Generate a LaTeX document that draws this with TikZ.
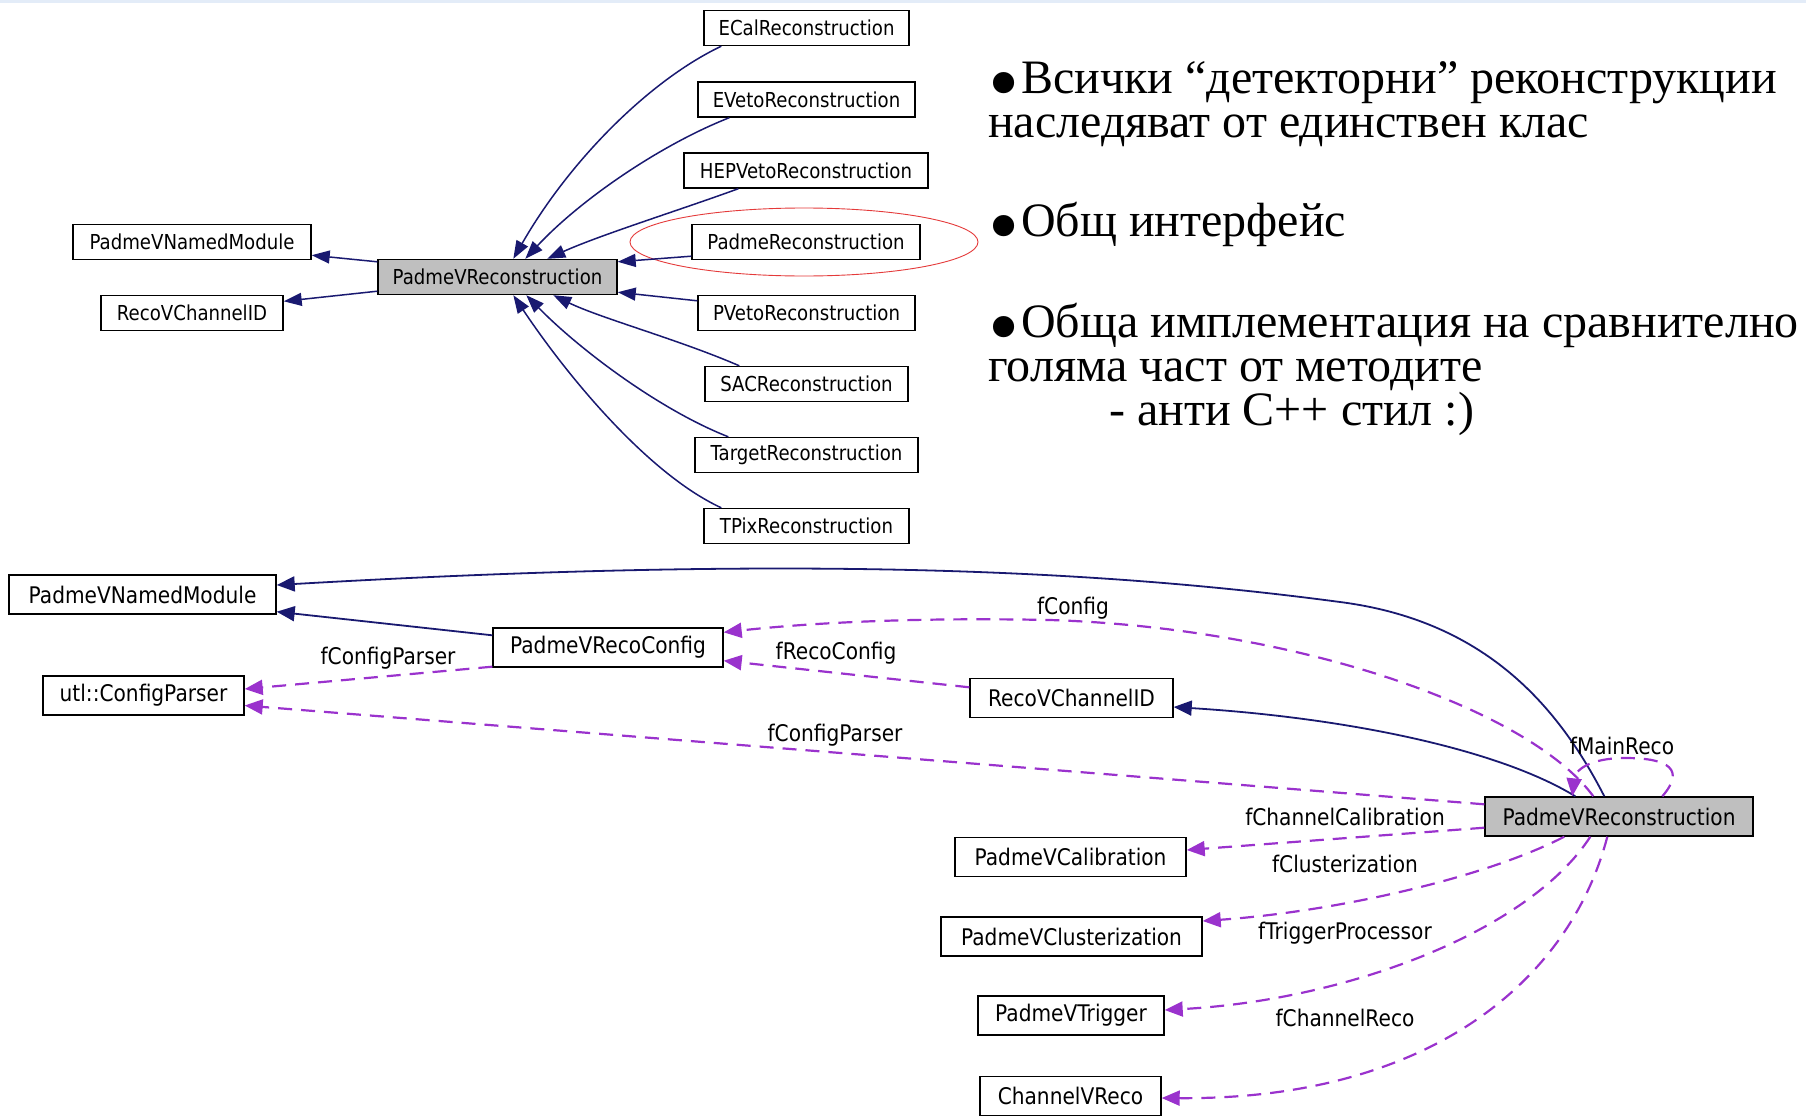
\documentclass[tikz,border=0pt]{standalone}
\usepackage{fontspec}
\setmainfont{Liberation Serif}
\newfontfamily\dvs[FakeStretch=0.88]{DejaVu Sans}
\usetikzlibrary{arrows.meta}
\definecolor{navy}{HTML}{191970}
\definecolor{dpurple}{HTML}{9A32CD}
\definecolor{boxgray}{HTML}{BFBFBF}
\definecolor{topband}{HTML}{E3ECF8}
\definecolor{ringred}{HTML}{E43A3A}
\newcommand{\bigbul}{\makebox[33pt][l]{\hspace{0.5pt}\raisebox{-19.3pt}{\scalebox{1.85}{•}}}}
\begin{document}
\begin{tikzpicture}[x=1pt,y=-1pt,
  cls/.style={draw=black, line width=1.4pt, inner sep=0pt, font=\dvs\fontsize{20.6}{24}\selectfont, minimum height=35pt},
  clsb/.style={cls, font=\dvs\fontsize{22.9}{27}\selectfont, minimum height=39pt},
  basecls/.style={fill=boxgray},
  inh/.style={draw=navy, line width=1.5pt, -{Triangle[length=18pt,width=13pt]}},
  inhb/.style={draw=navy, line width=1.8pt, -{Triangle[length=18pt,width=15pt]}},
  usage/.style={draw=dpurple, line width=2.2pt, dash pattern=on 14pt off 9pt, -{Triangle[length=18pt,width=15pt]}},
  lbl/.style={font=\dvs\fontsize{22.9}{27}\selectfont, inner sep=0pt},
  txt/.style={font=\fontsize{48}{45}\selectfont, inner sep=0pt, anchor=base west}
]
\useasboundingbox (0,0) rectangle (1806,1116);
\fill[topband] (0,0) rectangle (1806,3);

% ---------- top diagram ----------
\node[cls, minimum width=205] (ecal)   at (806.5,28)  {ECalReconstruction};
\node[cls, minimum width=217] (eveto)  at (806.5,99.5) {EVetoReconstruction};
\node[cls, minimum width=244] (hep)    at (806,170.5) {HEPVetoReconstruction};
\node[cls, minimum width=228] (padme)  at (806,242)   {PadmeReconstruction};
\node[cls, minimum width=217] (pveto)  at (806.5,313) {PVetoReconstruction};
\node[cls, minimum width=203] (sac)    at (806.5,384) {SACReconstruction};
\node[cls, minimum width=223] (target) at (806.5,455) {TargetReconstruction};
\node[cls, minimum width=205] (tpix)   at (806.5,526) {TPixReconstruction};
\node[cls, minimum width=238] (nmA)    at (192,242)   {PadmeVNamedModule};
\node[cls, minimum width=182] (rcA)    at (192,313)   {RecoVChannelID};
\node[cls, basecls, minimum width=239] (pvrA) at (497.5,277) {PadmeVReconstruction};

\draw[ringred, line width=0.9pt] (804,242) ellipse [x radius=174pt, y radius=34pt];

\draw[inh] ([xshift=18pt]ecal.south west) .. controls (650,80) and (570,160) .. ([xshift=136pt]pvrA.north west);
\draw[inh] ([xshift=32pt]eveto.south west) .. controls (660,145) and (580,200) .. ([xshift=148pt]pvrA.north west);
\draw[inh] ([xshift=55pt]hep.south west) .. controls (680,210) and (600,235) .. ([xshift=170pt]pvrA.north west);
\draw[inh] ([yshift=4pt]padme.south west) -- ([yshift=-3pt]pvrA.north east);
\draw[inh] ([yshift=-6pt]pveto.north west) -- ([yshift=3pt]pvrA.south east);
\draw[inh] ([xshift=35pt]sac.north west) .. controls (680,340) and (600,318) .. ([xshift=176pt]pvrA.south west);
\draw[inh] ([xshift=34pt]target.north west) .. controls (660,410) and (580,350) .. ([xshift=149pt]pvrA.south west);
\draw[inh] ([xshift=18pt]tpix.north west) .. controls (650,475) and (570,380) .. ([xshift=136pt]pvrA.south west);
\draw[inh] ([yshift=-3pt]pvrA.north west) -- ([yshift=5pt]nmA.south east);
\draw[inh] ([yshift=4pt]pvrA.south west) -- ([yshift=-6.5pt]rcA.north east);

% ---------- text ----------
\node[txt] (t1) at (988,93)  {\bigbul Всички “детекторни” реконструкции};
\node[txt] (t2) at (988,137) {наследяват от единствен клас};
\node[txt] (t3) at (988,236) {\bigbul Общ интерфейс};
\node[txt] (t4) at (988,337) {\bigbul Обща имплементация на сравнително};
\node[txt] (t5) at (988,381) {голяма част от методите};
\node[txt] (t6) at (1109,425) {- анти C++ стил :)};

% ---------- bottom diagram ----------
\node[clsb, minimum width=267] (nmB)    at (142.5,594.5) {PadmeVNamedModule};
\node[clsb, minimum width=230] (cfg)    at (608,647.5)   {PadmeVRecoConfig};
\node[clsb, minimum width=201] (parser) at (143.5,695.5) {utl::ConfigParser};
\node[clsb, minimum width=203] (rcB)    at (1071.5,698)  {RecoVChannelID};
\node[clsb, basecls, minimum width=268] (pvrB) at (1619,816.5) {PadmeVReconstruction};
\node[clsb, minimum width=231] (calib)  at (1070.5,857)  {PadmeVCalibration};
\node[clsb, minimum width=261] (clus)   at (1071.5,936.5) {PadmeVClusterization};
\node[clsb, minimum width=186] (trig)   at (1071,1015.5) {PadmeVTrigger};
\node[clsb, minimum width=181] (chan)   at (1070.5,1096) {ChannelVReco};

\draw[inhb] ([xshift=120pt]pvrB.north west) .. controls (1555,700) and (1480,620) .. (1340,602)
   .. controls (1100,570) and (800,555) .. ([yshift=9.5pt]nmB.east);
\draw[inhb] ([yshift=-8pt]cfg.north west) -- ([yshift=3pt]nmB.south east);
\draw[inhb] ([xshift=91pt]pvrB.north west) .. controls (1500,750) and (1350,718) .. ([yshift=-9pt]rcB.east);

\draw[usage] ([yshift=1pt]cfg.south west) -- ([yshift=6.5pt]parser.east);
\draw[usage] ([yshift=-8pt]pvrB.north west) -- ([yshift=-10pt]parser.east);
\draw[usage] ([xshift=109pt]pvrB.north west) .. controls (1530,710) and (1300,628) .. (1050,620)
   .. controls (900,617) and (800,624) .. ([yshift=-5pt]cfg.north east);
\draw[usage] ([yshift=-9.5pt]rcB.north west) -- ([yshift=7pt]cfg.south east);
\draw[usage] ([xshift=178pt]pvrB.north west) .. controls (1685,770) and (1670,758) .. (1625,758)
   .. controls (1590,758) and (1575,770) .. ([xshift=88pt]pvrB.north west);
\draw[usage] ([yshift=9pt]pvrB.south west) -- ([yshift=7pt]calib.east);
\draw[usage] ([xshift=80pt]pvrB.south west) .. controls (1480,880) and (1330,912) .. ([yshift=15.5pt]clus.east);
\draw[usage] ([xshift=106pt]pvrB.south west) .. controls (1530,930) and (1350,1000) .. ([yshift=5.5pt]trig.east);
\draw[usage] ([xshift=123pt]pvrB.south west) .. controls (1570,980) and (1430,1100) .. ([yshift=-2pt]chan.east);

\node[lbl] (l1) at (1073,608) {fConfig};
\node[lbl] (l2) at (388,658)  {fConfigParser};
\node[lbl] (l3) at (836,653)  {fRecoConfig};
\node[lbl] (l4) at (835,735)  {fConfigParser};
\node[lbl] (l5) at (1622,746) {fMainReco};
\node[lbl] (l6) at (1345,817) {fChannelCalibration};
\node[lbl] (l7) at (1345,864) {fClusterization};
\node[lbl] (l8) at (1345,933) {fTriggerProcessor};
\node[lbl] (l9) at (1345,1018) {fChannelReco};
\end{tikzpicture}
\end{document}
